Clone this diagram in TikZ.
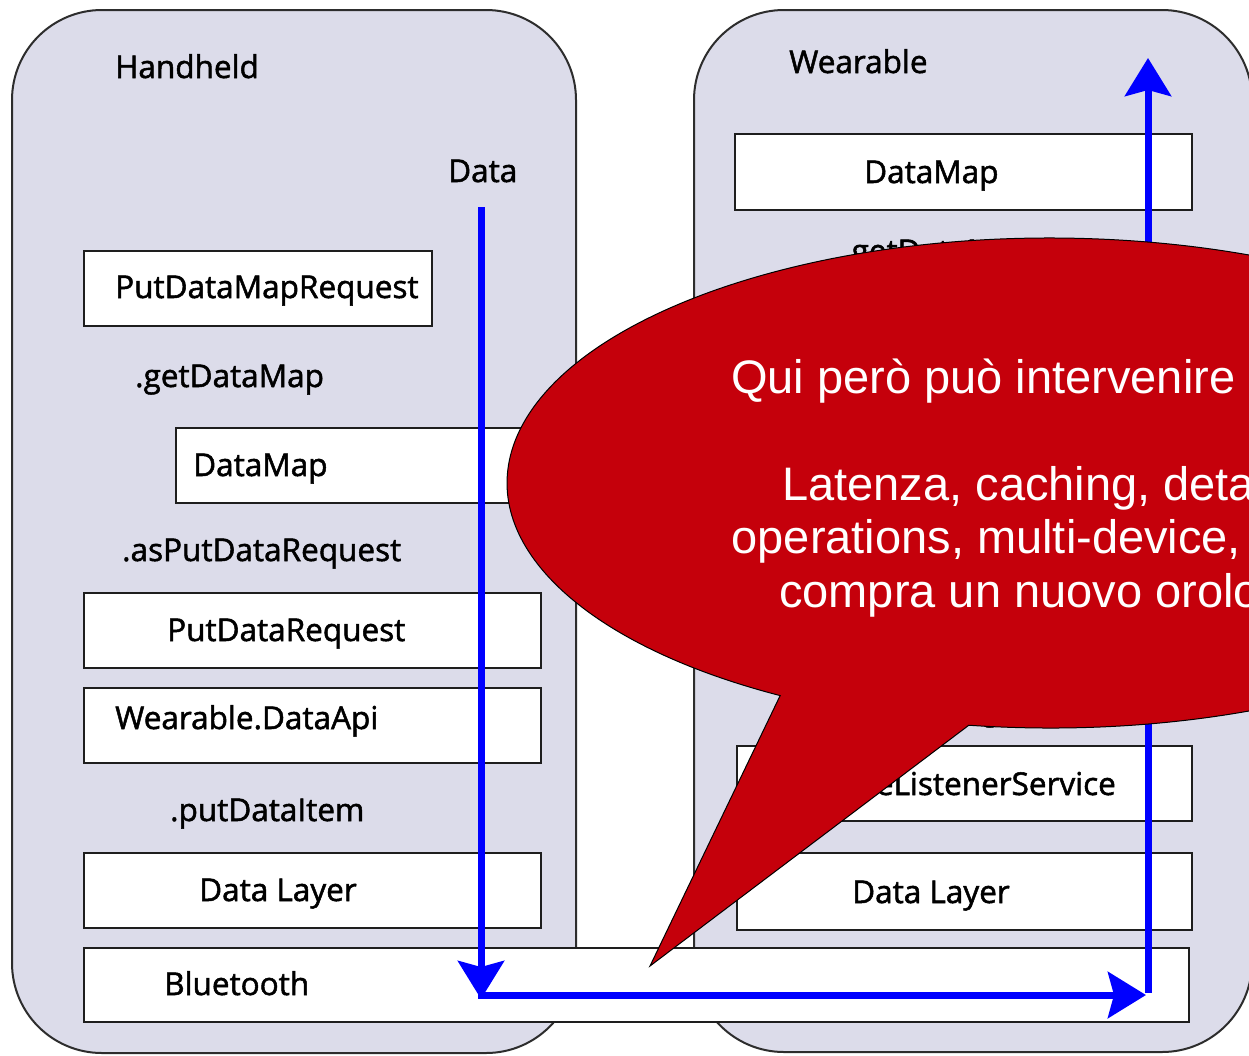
\documentclass[tikz,border=0pt]{standalone}
\usepackage{fontspec}
\setmainfont{Open Sans}
\newfontface\labelface{Open Sans}[FakeBold=1.6]
\newfontfamily\calloutfont{Liberation Sans}
\usetikzlibrary{arrows.meta}
\definecolor{panelfill}{RGB}{220,220,234}
\definecolor{panelline}{RGB}{45,45,45}
\definecolor{boxline}{RGB}{30,30,30}
\definecolor{calloutred}{RGB}{197,0,11}
\definecolor{flowblue}{RGB}{0,0,255}
\begin{document}
\begin{tikzpicture}[x=1pt,y=-1pt,
  panel/.style={draw=panelline, line width=2pt, fill=panelfill, rounded corners=90pt, inner sep=0pt},
  layerbox/.style={draw=boxline, line width=2pt, fill=white, inner sep=0pt},
  lbl/.style={anchor=base west, inner sep=0pt, font=\labelface\fontsize{31.5}{37}\selectfont},
  flow/.style={draw=flowblue, line width=7pt, -{Stealth[length=38pt,width=46pt,inset=6pt]}},
  calltext/.style={anchor=base west, inner sep=0pt, text=white, font=\calloutfont\fontsize{47}{54}\selectfont},
]
\clip (0,0) rectangle (1249,1055);
\fill[white] (0,0) rectangle (1249,1055);

% the two device panels
\node[panel, minimum width=564pt, minimum height=1043pt] (handheld) at (294,531.5) {};
\node[panel, minimum width=558pt, minimum height=1042pt] (wearable) at (973,531) {};
\node[lbl] (handheldT) at (115,78) {Handheld};
\node[lbl] (wearableT) at (789,73) {Wearable};

% handheld stack
\node[lbl] (dataT) at (448,182) {Data};
\node[layerbox, minimum width=348pt, minimum height=75pt] (pdmr) at (258,288.5) {};
\node[lbl] at (115,298) {PutDataMapRequest};
\node[lbl] (getdmL) at (135,387) {.getDataMap};
\node[layerbox, minimum width=365pt, minimum height=75pt] (dmL) at (358.5,465.5) {};
\node[lbl] at (193,476) {DataMap};
\node[lbl] (aspdr) at (122,561) {.asPutDataRequest};
\node[layerbox, minimum width=457pt, minimum height=75pt] (pdr) at (312.5,630.5) {};
\node[lbl] at (167,641) {PutDataRequest};
\node[layerbox, minimum width=457pt, minimum height=75pt] (api) at (312.5,725.5) {};
\node[lbl] at (115,729) {Wearable.DataApi};
\node[lbl] (putdi) at (170,821) {.putDataItem};
\node[layerbox, minimum width=457pt, minimum height=75pt] (dlL) at (312.5,890.5) {};
\node[lbl] at (199,901) {Data Layer};

% wearable stack
\node[layerbox, minimum width=457pt, minimum height=76pt] (dmR) at (963.5,172) {};
\node[lbl] at (864,183) {DataMap};
\node[lbl] (getdmR) at (843,262) {.getDataMap};
\node[lbl] (ondc) at (790,720) {.onDataChanged};
\node[layerbox, minimum width=455pt, minimum height=75pt] (wls) at (964.5,783.5) {};
\node[lbl] at (755,795) {WearableListenerService};
\node[layerbox, minimum width=455pt, minimum height=77pt] (dlR) at (964.5,891.5) {};
\node[lbl] at (852,903) {Data Layer};

% shared link
\node[layerbox, minimum width=1105pt, minimum height=74pt] (bt) at (636.5,985) {};
\node[lbl] at (164,995) {Bluetooth};

% data flow
\coordinate (flowStart) at (481,207);
\coordinate (downTip) at (481,999);
\coordinate (hStart) at (478,995);
\coordinate (hTip) at (1146,995);
\coordinate (upStart) at (1148,993);
\coordinate (upTip) at (1148,58);
\draw[flow] (flowStart) -- (downTip);
\draw[flow] (hStart) -- (hTip);
\draw[flow] (upStart) -- (upTip);

% speech bubble
\coordinate (bubbleC) at (1050,483);
\coordinate (tailTip) at (650,966);
\filldraw[fill=calloutred, draw=black, line width=1pt]
  (tailTip) -- ([shift={(bubbleC)}]98.6:543 and 245)
  arc[start angle=98.6, end angle=-240.2, x radius=543, y radius=245] -- cycle;
\node[calltext] (c1) at (731,393) {Qui però può intervenire};
\node[calltext] (c2) at (782,500) {Latenza, caching, detached};
\node[calltext] (c3) at (731.5,553) {operations, multi-device,};
\node[calltext] (c4) at (779,607) {compra un nuovo orologio};
\end{tikzpicture}
\end{document}
